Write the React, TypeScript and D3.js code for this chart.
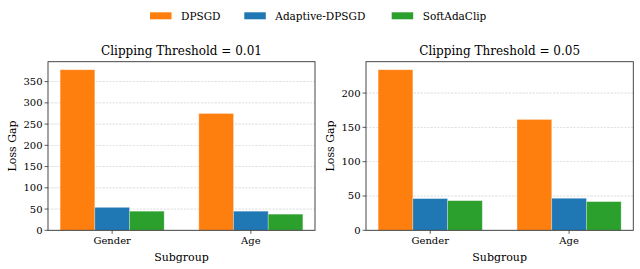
import React from "react";
import * as d3 from "d3";

const categories = ["Gender", "Age"];
const seriesNames = ["DPSGD", "Adaptive-DPSGD", "SoftAdaClip"];
const colors = ["#ff7f0e", "#1f77b4", "#2ca02c"];
const panel1Title = "Clipping Threshold = 0.01";
const panel1Values = [
  [378, 275],
  [54, 45],
  [45, 38],
];
const panel1Ticks = [0, 50, 100, 150, 200, 250, 300, 350];
const panel2Title = "Clipping Threshold = 0.05";
const panel2Values = [
  [234, 161.5],
  [46.2, 46.7],
  [43.2, 41.8],
];
const panel2Ticks = [0, 50, 100, 150, 200];

const FONT = "DejaVu Serif";

function Panel({ x0, x1, title, values, ticks }: any) {
  const top = 61.7;
  const bottom = 230.3;
  const maxV = d3.max(values.flat() as number[]) as number;
  const y = d3.scaleLinear().domain([0, maxV * 1.05]).range([bottom, top]);
  const barW = 0.25;
  const x = d3.scaleLinear().domain([-0.4625, 1.4625]).range([x0, x1]);
  return (
    <g>
      <text x={(x0 + x1) / 2} y={55} textAnchor="middle" fontFamily={FONT} fontSize={12}>
        {title}
      </text>
      {ticks.map((t: number) => (
        <line key={"g" + t} x1={x0} x2={x1} y1={y(t)} y2={y(t)} stroke="#b0b0b0" strokeWidth={0.6} strokeDasharray="2.2,1.2" opacity={0.7} />
      ))}
      {seriesNames.map((s, si) =>
        categories.map((c, ci) => {
          const cx = ci + (si - 1) * barW;
          const v = values[si][ci];
          return (
            <rect
              key={s + c}
              x={x(cx - barW / 2)}
              width={x(cx + barW / 2) - x(cx - barW / 2)}
              y={y(v)}
              height={y(0) - y(v)}
              fill={colors[si]}
              stroke="#ffffff"
              strokeOpacity={0.35}
              strokeWidth={0.8}
            />
          );
        })
      )}
      <rect x={x0} y={top} width={x1 - x0} height={bottom - top} fill="none" stroke="#333" strokeWidth={0.9} />
      {ticks.map((t: number) => (
        <g key={"t" + t}>
          <line x1={x0 - 3.5} x2={x0} y1={y(t)} y2={y(t)} stroke="#333" strokeWidth={0.8} />
          <text x={x0 - 5.5} y={y(t)} dy="0.35em" textAnchor="end" fontFamily={FONT} fontSize={10}>
            {t}
          </text>
        </g>
      ))}
      {categories.map((c, ci) => (
        <g key={"x" + c}>
          <line x1={x(ci)} x2={x(ci)} y1={bottom} y2={bottom + 3.5} stroke="#333" strokeWidth={0.8} />
          <text x={x(ci)} y={bottom + 14} textAnchor="middle" fontFamily={FONT} fontSize={10}>
            {c}
          </text>
        </g>
      ))}
      <text x={(x0 + x1) / 2} y={260.5} textAnchor="middle" fontFamily={FONT} fontSize={11}>
        Subgroup
      </text>
      <text
        transform={`translate(${x0 - 32},${(top + bottom) / 2}) rotate(-90)`}
        textAnchor="middle"
        fontFamily={FONT}
        fontSize={11}
      >
        Loss Gap
      </text>
    </g>
  );
}

export default function App() {
  const legendX = [150, 244.3, 391.7];
  return (
    <svg width={640} height={269} style={{ position: "absolute", left: 0, top: 0 }}>
      <rect width={640} height={269} fill="#fff" />
      {seriesNames.map((s, i) => (
        <g key={s}>
          <rect x={legendX[i]} y={12.3} width={21.5} height={7} fill={colors[i]} />
          <text x={legendX[i] + 31} y={19.5} fontFamily={FONT} fontSize={10.5}>
            {s}
          </text>
        </g>
      ))}
      <Panel x0={48} x1={315} title={panel1Title} values={panel1Values} ticks={panel1Ticks} />
      <Panel x0={366} x1={633.3} title={panel2Title} values={panel2Values} ticks={panel2Ticks} />
    </svg>
  );
}
